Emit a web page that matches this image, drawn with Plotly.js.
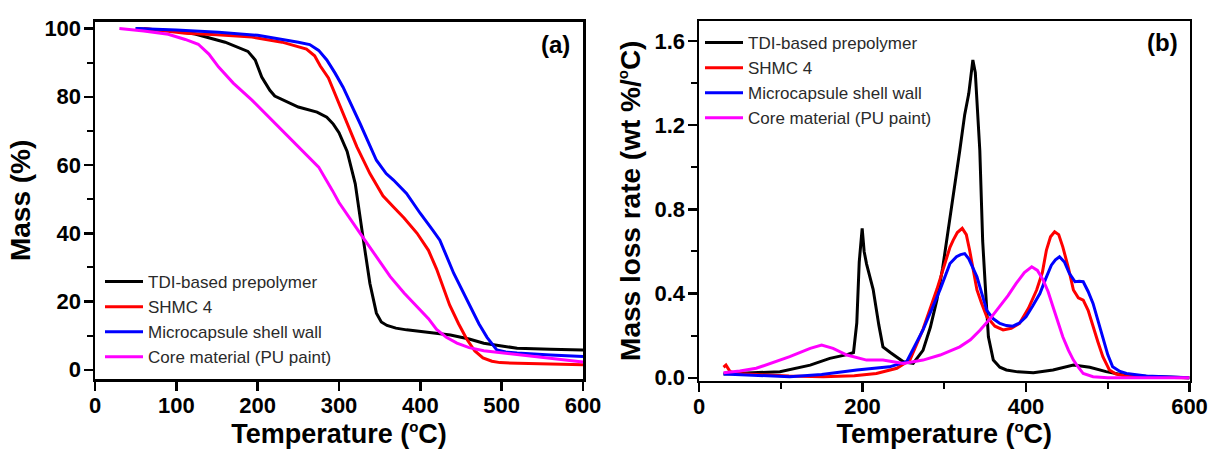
<!DOCTYPE html>
<html>
<head>
<meta charset="utf-8">
<script src="https://cdn.plot.ly/plotly-3.0.1.min.js"></script>
<style>html,body{margin:0;padding:0;background:#fff;}#chart{width:1211px;height:449px;}</style>
</head>
<body>
<div id="chart"></div>
<script>
// ---------- Data ----------
const seriesNames = ["TDI-based prepolymer", "SHMC 4", "Microcapsule shell wall", "Core material (PU paint)"];
const seriesColors = ["#000000", "#ff0000", "#0000ff", "#ff00ff"];

// (a) TGA: mass (%) vs temperature (°C)
const tgaBlackT = [50, 100, 123, 160, 188, 197, 205, 215, 221, 240, 250, 273, 285, 293, 300, 310, 320, 330, 338, 346, 352, 359, 370, 383, 400, 437, 460, 478, 500, 519, 560, 600];
const tgaBlackM = [100, 99.3, 98.4, 96, 93.3, 90.8, 85.8, 81.9, 80.2, 78, 77, 75.5, 74, 72, 69.5, 64, 54.5, 38, 25.3, 16.6, 14, 13, 12.2, 11.7, 11.2, 10.2, 9, 7.8, 7, 6.3, 6, 5.8];
const tgaRedT = [60, 111, 150, 193, 230, 250, 260, 270, 277, 287, 295, 309, 322, 338, 354, 367, 380, 396, 410, 420, 436, 447, 457, 467, 477, 488, 498, 520, 560, 600];
const tgaRedM = [100, 98.6, 98.2, 97.5, 96, 94.8, 94, 92, 89, 85.5, 81, 73, 65.3, 57.5, 51, 47.7, 44.5, 40, 35, 29.5, 19, 13.5, 9, 5.5, 3.5, 2.5, 2.1, 1.9, 1.7, 1.5];
const tgaBlueT = [50, 100, 152, 200, 250, 264, 275, 285, 295, 305, 326, 346, 358, 367, 383, 400, 415, 424, 441, 461, 472, 482, 494, 505, 519, 560, 600];
const tgaBlueM = [100, 99.6, 98.9, 98, 96, 95.3, 93.6, 90.8, 87, 82.8, 72.1, 61.4, 57.5, 55.6, 51.7, 45.8, 41, 38, 28.3, 18.5, 13.5, 9.5, 5.8, 5.2, 4.9, 4.3, 3.9];
const tgaMagT = [30, 60, 90, 111, 127, 140, 152, 170, 193, 214, 234, 255, 275, 292, 300, 326, 345, 363, 380, 396, 410, 420, 432, 445, 460, 478, 500, 519, 560, 600];
const tgaMagM = [100, 99.3, 98.3, 96.8, 95.4, 92.5, 88.7, 84, 79, 74, 69.2, 64.2, 59.4, 52.5, 49, 40, 33.5, 27.3, 22.5, 18.5, 15, 11.8, 9.5, 7.8, 6.5, 5.6, 5, 4.4, 3.3, 2.3];

// (b) DTG: mass loss rate (wt %/°C) vs temperature (°C)
const dtgBlackT = [30, 60, 99, 136, 160, 181, 189, 193, 196, 199.6, 202, 205, 213, 220, 225, 234, 250, 262, 274, 283, 291, 298, 305, 312, 319, 325, 330, 335, 338, 343.5, 347, 350, 354, 360, 368, 376, 390, 409, 433, 458, 478, 498, 519, 550, 600];
const dtgBlackR = [0.018, 0.022, 0.029, 0.06, 0.092, 0.11, 0.12, 0.26, 0.55, 0.71, 0.6, 0.54, 0.42, 0.25, 0.147, 0.12, 0.076, 0.068, 0.13, 0.24, 0.37, 0.52, 0.70, 0.88, 1.08, 1.25, 1.35, 1.51, 1.45, 1.08, 0.65, 0.45, 0.195, 0.084, 0.05, 0.037, 0.028, 0.024, 0.037, 0.06, 0.05, 0.029, 0.013, 0.006, 0.0];
const dtgRedT = [30, 33, 38, 45, 70, 110, 152, 190, 217, 242, 258, 274, 291, 300, 307, 311, 316, 322, 327, 331, 335, 340, 346, 352, 362, 372, 382, 392, 403, 413, 420, 425, 430, 435, 440, 445, 452, 458, 464, 470, 476, 482, 488, 494, 502, 510, 520, 560, 600];
const dtgRedR = [0.05, 0.06, 0.03, 0.02, 0.015, 0.008, 0.005, 0.01, 0.02, 0.045, 0.084, 0.23, 0.42, 0.53, 0.62, 0.654, 0.69, 0.71, 0.68, 0.607, 0.52, 0.417, 0.35, 0.29, 0.245, 0.227, 0.235, 0.258, 0.33, 0.417, 0.5, 0.607, 0.67, 0.694, 0.68, 0.622, 0.52, 0.417, 0.38, 0.369, 0.32, 0.242, 0.17, 0.1, 0.037, 0.018, 0.01, 0.003, 0.0];
const dtgBlueT = [30, 60, 111, 150, 193, 233, 254, 274, 290, 295, 307, 315, 320, 325, 330, 335, 340, 346, 352, 360, 368, 376, 384, 392, 400, 408, 417, 424, 431, 436, 441, 447, 453, 460, 465, 470, 476, 482, 488, 494, 500, 506, 515, 523, 547, 600];
const dtgBlueR = [0.018, 0.012, 0.005, 0.015, 0.037, 0.052, 0.076, 0.227, 0.37, 0.42, 0.543, 0.575, 0.585, 0.59, 0.565, 0.52, 0.48, 0.4, 0.32, 0.28, 0.258, 0.248, 0.245, 0.26, 0.29, 0.34, 0.4, 0.47, 0.535, 0.56, 0.575, 0.55, 0.496, 0.456, 0.458, 0.456, 0.41, 0.353, 0.27, 0.18, 0.11, 0.052, 0.03, 0.02, 0.008, 0.0];
const dtgMagT = [30, 50, 70, 90, 111, 136, 150, 164, 181, 205, 225, 250, 274, 295, 305, 319, 332, 344, 356, 368, 378, 388, 398, 407, 414, 421, 427, 433, 439, 445, 452, 458, 464, 470, 482, 500, 600];
const dtgMagR = [0.024, 0.032, 0.045, 0.07, 0.1, 0.14, 0.155, 0.14, 0.108, 0.084, 0.084, 0.068, 0.084, 0.108, 0.124, 0.147, 0.18, 0.227, 0.28, 0.337, 0.39, 0.448, 0.5, 0.527, 0.51, 0.464, 0.41, 0.337, 0.27, 0.195, 0.13, 0.084, 0.05, 0.02, 0.005, 0.0, 0.0];

const xTickVals = [0, 100, 200, 300, 400, 500, 600];

// ---------- Traces ----------
const tgaX = [tgaBlackT, tgaRedT, tgaBlueT, tgaMagT];
const tgaY = [tgaBlackM, tgaRedM, tgaBlueM, tgaMagM];
const dtgX = [dtgBlackT, dtgRedT, dtgBlueT, dtgMagT];
const dtgY = [dtgBlackR, dtgRedR, dtgBlueR, dtgMagR];

const traces = [];
for (let i = 0; i < 4; i++) {
  traces.push({x: tgaX[i], y: tgaY[i], name: seriesNames[i], type: 'scatter', mode: 'lines',
    line: {color: seriesColors[i], width: 3}, xaxis: 'x', yaxis: 'y', legend: 'legend'});
}
for (let i = 0; i < 4; i++) {
  traces.push({x: dtgX[i], y: dtgY[i], name: seriesNames[i], type: 'scatter', mode: 'lines',
    line: {color: seriesColors[i], width: 3}, xaxis: 'x2', yaxis: 'y2', legend: 'legend2'});
}

const FONT = 'Liberation Sans, Arial, sans-serif';
const tickFont = {family: FONT, size: 22, color: '#000', weight: 'bold'};
const titleFont = {family: FONT, size: 27, color: '#000', weight: 'bold'};
const axBase = {
  showline: true, mirror: true, linecolor: '#000', linewidth: 2.5,
  ticks: 'outside', ticklen: 9, tickwidth: 2.5, tickcolor: '#000',
  showgrid: false, zeroline: false, tickfont: tickFont, fixedrange: true
};
const minorBase = {ticks: 'outside', ticklen: 6, tickwidth: 2, tickcolor: '#000', showgrid: false};
const legFont = {family: FONT, size: 17, color: '#2a2a2a'};
const degSup = '<sup><span style="font-size:15px">o</span></sup>';
const xTitle = 'Temperature (' + degSup + 'C)';

const layout = {
  width: 1211, height: 449, autosize: false,
  margin: {l: 0, r: 0, t: 0, b: 0},
  paper_bgcolor: '#fff', plot_bgcolor: '#fff',
  showlegend: true,
  xaxis: Object.assign({}, axBase, {domain: [95/1211, 583/1211], range: [0, 600], tickvals: xTickVals, anchor: 'y',
    ticklabelstandoff: -4,
    title: {text: xTitle, font: titleFont, standoff: 10}}),
  yaxis: Object.assign({}, axBase, {domain: [1 - 379/449, 1 - 21.7/449], range: [-2.7, 102], dtick: 20, anchor: 'x',
    ticklabelstandoff: -2,
    minor: Object.assign({dtick: 10}, minorBase),
    title: {text: 'Mass (%)', font: Object.assign({}, titleFont, {size: 28}), standoff: 6}}),
  xaxis2: Object.assign({}, axBase, {domain: [699/1211, 1189.5/1211], range: [0, 600], dtick: 200, anchor: 'y2',
    ticklabelstandoff: -4,
    minor: Object.assign({dtick: 100}, minorBase),
    title: {text: xTitle, font: titleFont, standoff: 10}}),
  yaxis2: Object.assign({}, axBase, {domain: [1 - 380.5/449, 1 - 21/449], range: [-0.013, 1.695], dtick: 0.4, tickformat: '.1f', anchor: 'x2',
    ticklabelstandoff: -2,
    minor: Object.assign({dtick: 0.2}, minorBase),
    title: {text: 'Mass loss rate (wt %/' + degSup + 'C)', font: Object.assign({}, titleFont, {size: 28}), standoff: 6}}),
  legend: {x: 100/1211, xanchor: 'left', y: 1 - 264/449, yanchor: 'top', bgcolor: 'rgba(0,0,0,0)',
    font: legFont, borderwidth: 0, tracegroupgap: 0, itemwidth: 38, itemclick: false},
  legend2: {x: 700/1211, xanchor: 'left', y: 1 - 25/449, yanchor: 'top', bgcolor: 'rgba(0,0,0,0)',
    font: legFont, borderwidth: 0, tracegroupgap: 0, itemwidth: 38, itemclick: false},
  annotations: [
    {text: '(a)', xref: 'paper', yref: 'paper', x: 555/1211, y: 1 - 44/449, xanchor: 'center', yanchor: 'middle',
      showarrow: false, font: {family: FONT, size: 24, color: '#000', weight: 'bold'}},
    {text: '(b)', xref: 'paper', yref: 'paper', x: 1162/1211, y: 1 - 43/449, xanchor: 'center', yanchor: 'middle',
      showarrow: false, font: {family: FONT, size: 24, color: '#000', weight: 'bold'}}
  ]
};

Plotly.newPlot('chart', traces, layout, {displayModeBar: false, staticPlot: true});
</script>
</body>
</html>
